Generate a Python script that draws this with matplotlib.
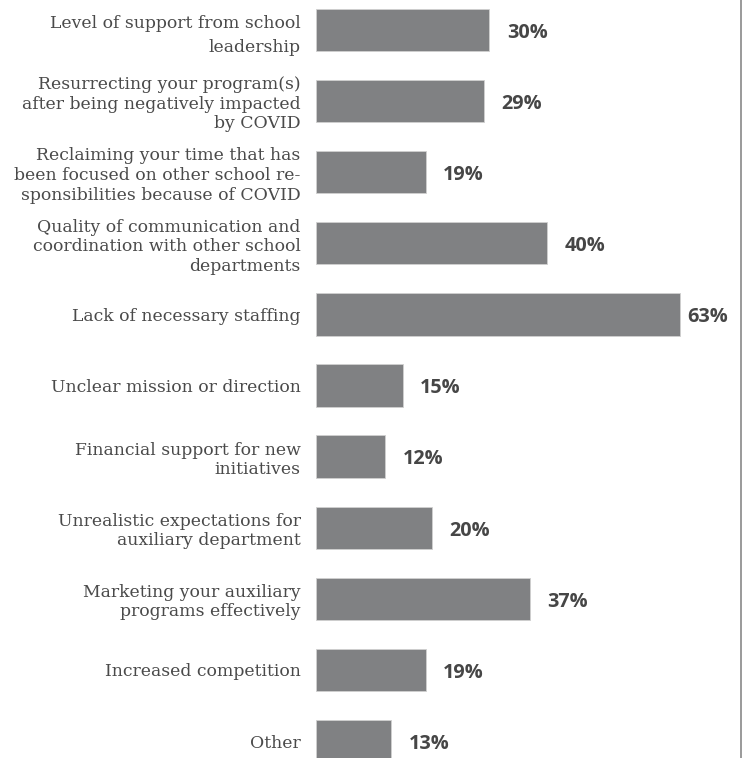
import matplotlib.pyplot as plt

# Challenges faced by auxiliary programs (share of respondents, %)
categories = [
    'Level of support from school\nleadership',
    'Resurrecting your program(s)\nafter being negatively impacted\nby COVID',
    'Reclaiming your time that has\nbeen focused on other school re-\nsponsibilities because of COVID',
    'Quality of communication and\ncoordination with other school\ndepartments',
    'Lack of necessary staffing',
    'Unclear mission or direction',
    'Financial support for new\ninitiatives',
    'Unrealistic expectations for\nauxiliary department',
    'Marketing your auxiliary\nprograms effectively',
    'Increased competition',
    'Other',
]
percentages = [30, 29, 19, 40, 63, 15, 12, 20, 37, 19, 13]

BAR_COLOR = '#808183'
LABEL_COLOR = '#4a4a4a'
VALUE_COLOR = '#464646'

fig = plt.figure(figsize=(7.47, 7.58), dpi=100)
ax = fig.add_axes([316 / 747, 0.0, (741.5 - 316) / 747, 1.0])

positions = list(range(len(categories)))
ax.barh(positions, percentages, height=0.595, color=BAR_COLOR,
        edgecolor='#d0d0d0', linewidth=0.6)

# px per unit on each axis: 5.78 px per %, 71.1 px per row
xmax = (741.5 - 316) / 5.78
ax.set_xlim(0, xmax)
ax.set_ylim((758 - 30) / 71.1, -30 / 71.1)

ax.set_yticks(positions)
ax.set_yticklabels(categories, fontsize=12.4, family='DejaVu Serif',
                   color=LABEL_COLOR, linespacing=1.2)
ax.get_yticklabels()[0].set_linespacing(1.55)
ax.tick_params(axis='y', length=0, pad=11)
ax.set_xticks([])

for side in ['top', 'bottom', 'left']:
    ax.spines[side].set_visible(False)
ax.spines['right'].set_color('#9a9a9a')
ax.spines['right'].set_linewidth(1.4)

# value labels just past the end of each bar, kept inside the frame
for pos, val in zip(positions, percentages):
    x = min(val + 3.0, xmax - 9.3)
    ax.text(x, pos + 0.04, f'{val}%', va='center', ha='left',
            fontsize=14.3, fontweight='bold', family='Open Sans',
            color=VALUE_COLOR)

fig.savefig('out.png', dpi=100)
